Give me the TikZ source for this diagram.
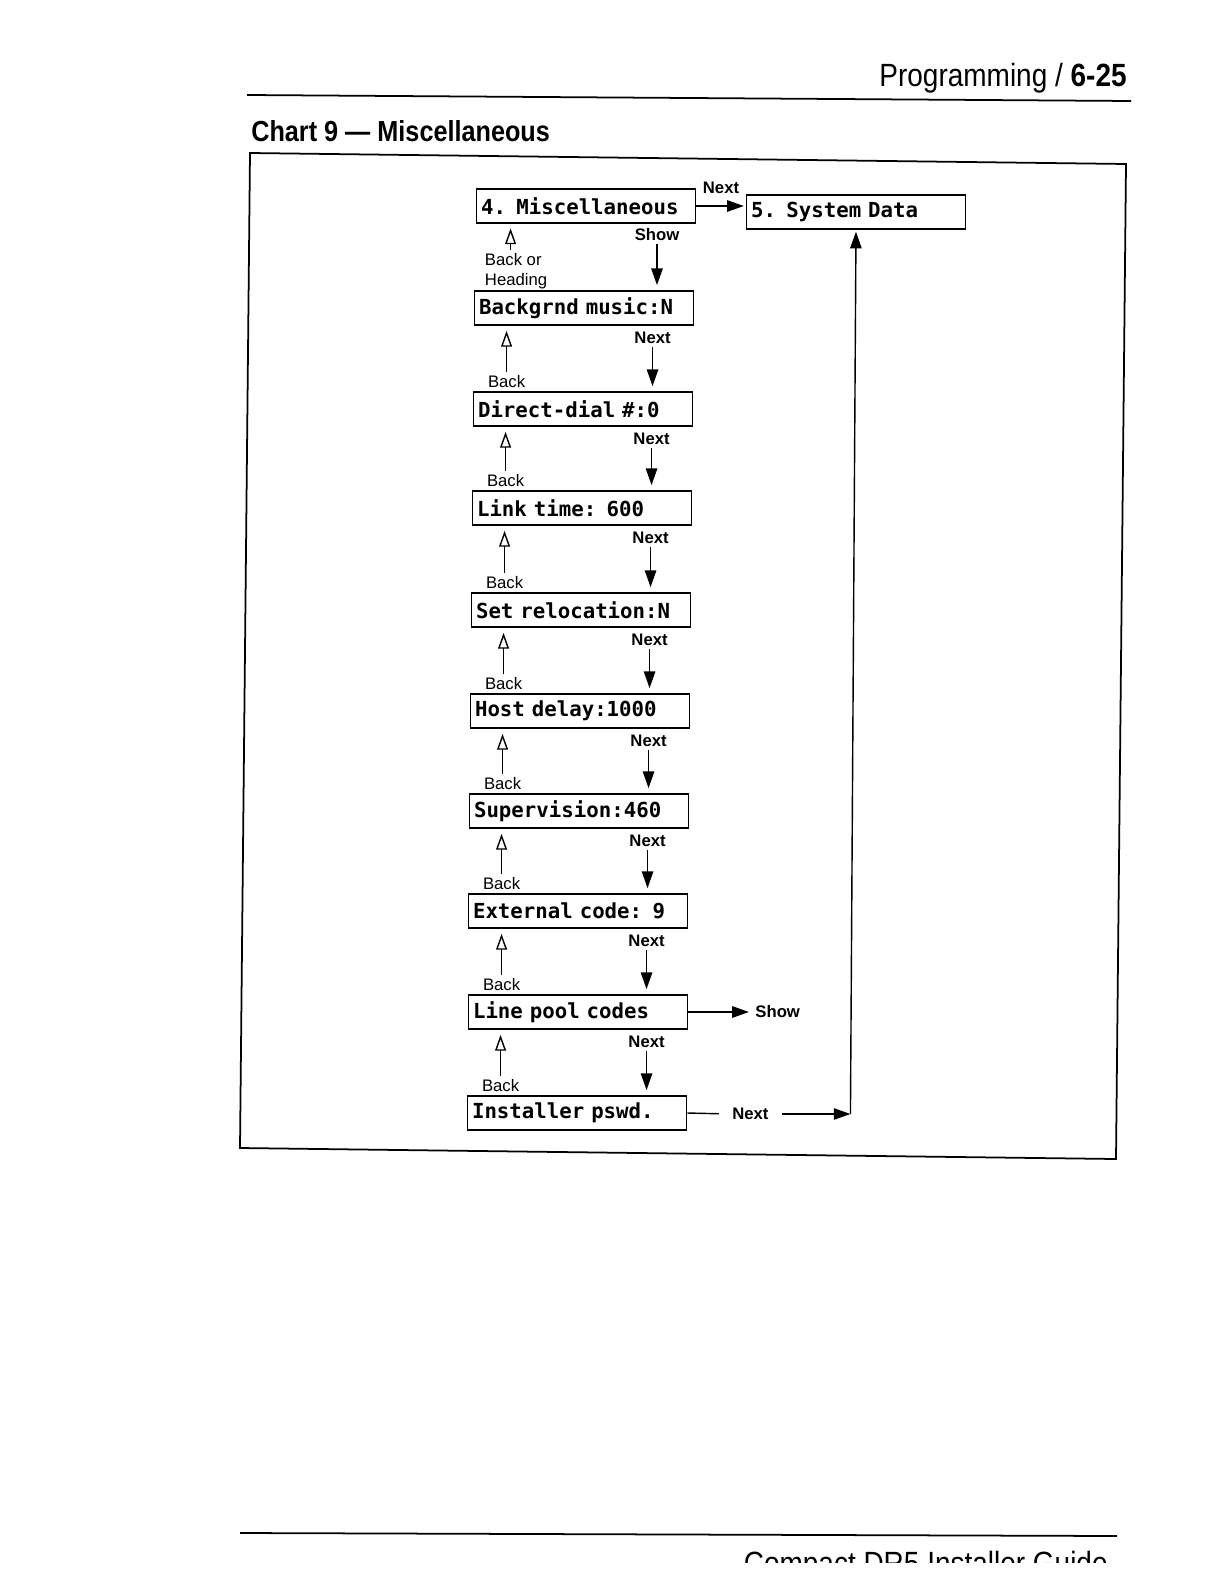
\documentclass[tikz,border=0pt]{standalone}
\usepackage{fontspec}
\setmainfont{Liberation Sans}
\newfontfamily\headfont[FakeStretch=0.87]{Liberation Sans}
\newfontfamily\lcdfont[WordSpace={1,0,0}]{DejaVu Sans Mono}
\usetikzlibrary{calc,arrows.meta}

\tikzset{
  screen/.style={draw, line width=1.1pt, font=\lcdfont\bfseries\fontsize{11.8}{12}\selectfont,
    text width=4.2cm, inner xsep=0.09cm, minimum height=0.68cm, align=left},
  flow/.style={-{Triangle[length=9.5pt,width=6.5pt]}, line width=0.8pt},
  backflow/.style={-{Triangle[open,length=9pt,width=6.2pt]}, line width=0.8pt},
  keylbl/.style={font=\fontsize{9.5}{11.4}\selectfont, inner sep=1.5pt},
  keybold/.style={keylbl, font=\fontsize{9.5}{11.4}\selectfont\bfseries},
}

\begin{document}
\begin{tikzpicture}[x=0.02cm, y=-0.02cm]
  \useasboundingbox (0,0) rectangle (1212,1582);
  \clip (0,0) rectangle (1212,1582);

  % page header
  \node[anchor=base east, font=\headfont\fontsize{18.3}{20}\selectfont, inner sep=0]
    (pagehead) at (1127,86) {Programming / \textbf{6-25}};
  \draw[line width=1pt] (247,95) -- (1131,101);
  \node[anchor=base west, font=\headfont\bfseries\fontsize{16.5}{18}\selectfont, inner sep=0]
    (charttitle) at (251,141) {Chart 9 — Miscellaneous};

  % chart frame
  \draw[line width=1pt] (250,153) -- (1126,164) -- (1116,1159) -- (240,1148) -- cycle;

  % screens
  \node[screen] (misc)      at (586,206)  {4. Miscellaneous};
  \node[screen] (sysdata)   at (856,212)  {5. System Data};
  \node[screen] (bgmusic)   at (584,308)  {Backgrnd music:N};
  \node[screen] (dirdial)   at (583,409)  {Direct-dial \#:0};
  \node[screen] (linktime)  at (582,508)  {Link time: 600};
  \node[screen] (reloc)     at (581,610)  {Set relocation:N};
  \node[screen] (hostdelay) at (580,711)  {Host delay:1000};
  \node[screen] (superv)    at (579,811)  {Supervision:460};
  \node[screen] (extcode)   at (578,911)  {External code: 9};
  \node[screen] (linepool)  at (578,1012) {Line pool codes};
  \node[screen] (instpswd)  at (577,1113) {Installer pswd.};

  % Miscellaneous -> System Data
  \draw[flow, shorten >=1pt] (misc.east) -- node[keybold, above=5pt] (next0) {Next} (misc.east -| sysdata.west);

  % Show / Back or Heading
  \node[keybold] (show1) at (657,235) {Show};
  \node[keylbl, align=left, anchor=north west] (backhead) at (482,250) {Back or\\Heading};
  \coordinate (b1) at ($(misc.south west)+(35,0)$);
  \draw[backflow, shorten >=2.5pt] (b1 |- backhead.north) -- (b1);
  \draw[flow, shorten >=2.8pt] (show1.south) -- (show1.south |- bgmusic.north);

  % Back / Next pairs down the list
  \foreach \upper/\lower in {bgmusic/dirdial, dirdial/linktime, linktime/reloc, reloc/hostdelay,
      hostdelay/superv, superv/extcode, extcode/linepool, linepool/instpswd} {
    \node[keybold] (next-\lower) at ($(\upper.south west)+(179,12)$) {Next};
    \node[keylbl] (back-\lower) at ($(\lower.north west)+(34,-10)$) {Back};
    \draw[backflow, shorten >=2.8pt] (back-\lower.north) -- (back-\lower.north |- \upper.south);
    \draw[flow, shorten >=2.8pt] (next-\lower.south) -- (next-\lower.south |- \lower.north);
  }

  % Line pool codes -> Show
  \node[keybold, anchor=west] (show2) at ($(linepool.east)+(64,0)$) {Show};
  \draw[flow, shorten >=2pt] (linepool.east) -- (show2.west);

  % Installer pswd -> System Data
  \node[keybold] (next11) at ($(instpswd.east)+(63,1)$) {Next};
  \coordinate (uplink) at ($(next11)+(100,0)$);
  \draw[line width=0.8pt, shorten >=6pt] (instpswd.east) -- (next11.west);
  \draw[flow, shorten <=6pt] (next11.east) -- (uplink);
  \draw[flow, shorten >=1pt] (uplink) -- (sysdata.south);

  % page footer
  \draw[line width=1pt] (240,1533) -- (1117,1536);
  \begin{scope}
    \clip (0,1540) rectangle (1212,1562);
    \node[anchor=base east, font=\headfont\fontsize{18.3}{20}\selectfont, inner sep=0]
      (pagefoot) at (1108,1574) {Compact DR5 Installer Guide};
  \end{scope}
\end{tikzpicture}
\end{document}
